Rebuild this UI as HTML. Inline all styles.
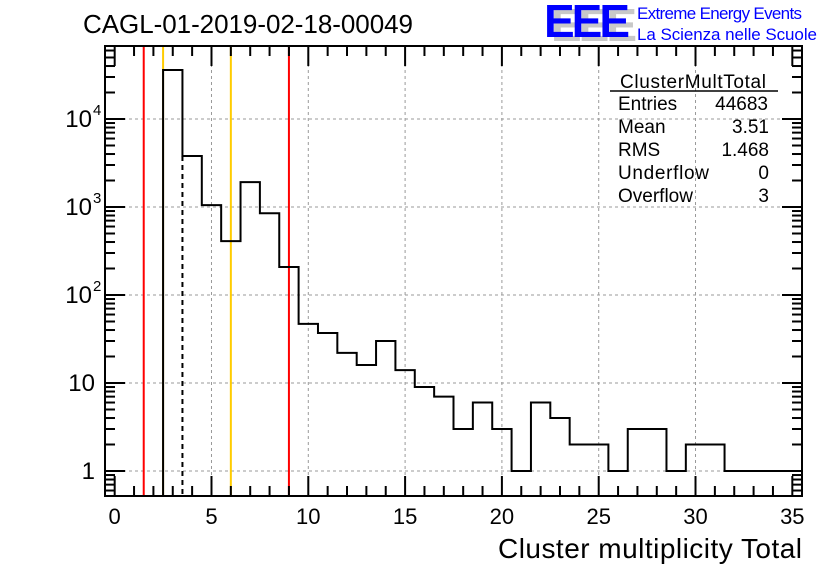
<!DOCTYPE html>
<html><head><meta charset="utf-8"><style>
body{margin:0;background:#fff;}
svg{display:block;font-family:"Liberation Sans",sans-serif;}
</style></head><body>
<svg id="chart" width="836" height="572" viewBox="0 0 836 572">
<rect width="836" height="572" fill="#fff"/>
<g id="grid"></g>
<g id="marks"></g>
<g id="axes"></g>
<text x="83" y="33" font-size="26" textLength="330">CAGL-01-2019-02-18-00049</text>
<g>
<text x="551" y="41" font-size="46" font-weight="bold" fill="#c8c8c8" letter-spacing="-3">EEE</text>
<text x="544" y="37" font-size="46" font-weight="bold" fill="#0000ff" letter-spacing="-3">EEE</text>
<text x="637" y="19" font-size="17" fill="#0000ff" textLength="165">Extreme Energy Events</text>
<text x="637" y="40" font-size="17" fill="#0000ff" textLength="180">La Scienza nelle Scuole</text>
</g>
<g font-size="19">
<text x="620" y="88" textLength="146">ClusterMultTotal</text>
<line x1="610" y1="91" x2="778" y2="91" stroke="#000" stroke-width="1.5"/>
<text x="618" y="110">Entries</text><text x="768" y="110" text-anchor="end">44683</text>
<text x="618" y="133">Mean</text><text x="769" y="133" text-anchor="end">3.51</text>
<text x="618" y="156">RMS</text><text x="769" y="156" text-anchor="end">1.468</text>
<text x="618" y="179" textLength="91">Underflow</text><text x="769" y="179" text-anchor="end">0</text>
<text x="618" y="202">Overflow</text><text x="769" y="202" text-anchor="end">3</text>
</g>
<text x="802" y="558" font-size="28" text-anchor="end" textLength="304">Cluster multiplicity Total</text>
</svg>
<script>
const binLow = [2.5,3.5,4.5,5.5,6.5,7.5,8.5,9.5,10.5,11.5,12.5,13.5,14.5,15.5,16.5,17.5,18.5,19.5,20.5,21.5,22.5,23.5,24.5,25.5,26.5,27.5,28.5,29.5,30.5,31.5,32.5,33.5,34.5];
const counts = [36000,3800,1050,410,1920,850,208,47,37,22,16,30,14,9,7,3,6,3,1,6,4,2,2,1,3,3,1,2,2,1,1,1,1];
const xTicks = [0,5,10,15,20,25,30,35];
const yDecades = [0,1,2,3,4];
const yLabels = ["1","10","10","10","10"];
const yExps = ["","","2","3","4"];
const redLines = [1.5,9];
const orangeLines = [2.5,6];
const meanLine = [3.5];

const L=105,R=802,T=46,B=496;
const xMin=-0.5,xMax=35.5;
const X=v=>L+(v-xMin)/(xMax-xMin)*(R-L);
const Y=v=>471-Math.log10(v)*88;
const NS="http://www.w3.org/2000/svg";
function mk(tag,attrs,parent){const e=document.createElementNS(NS,tag);for(const k in attrs)e.setAttribute(k,attrs[k]);parent.appendChild(e);return e;}
const grid=document.getElementById('grid'),marks=document.getElementById('marks'),axes=document.getElementById('axes');

xTicks.forEach(t=>{if(t===0||t===35)return;const l=mk('line',{x1:X(t),x2:X(t),y1:T,y2:B,stroke:'#999','stroke-dasharray':'3,3'},grid);

});
yDecades.forEach(d=>{const l=mk('line',{x1:L,x2:R,y1:Y(Math.pow(10,d)),y2:Y(Math.pow(10,d)),stroke:'#999','stroke-dasharray':'3,3'},grid);

});

redLines.forEach(v=>{const l=mk('line',{x1:X(v),x2:X(v),y1:T,y2:B,stroke:'#ff0000','stroke-width':2},marks);

});
orangeLines.forEach(v=>{const l=mk('line',{x1:X(v),x2:X(v),y1:T,y2:B,stroke:'#ffcc00','stroke-width':2},marks);

});
meanLine.forEach(v=>{const l=mk('line',{x1:X(v),x2:X(v),y1:Y(counts[1]),y2:B,stroke:'#000','stroke-width':2,'stroke-dasharray':'5,4'},marks);

});

let d='M'+X(binLow[0])+' '+B;
binLow.forEach((b,i)=>{const y=Y(counts[i]);d+=' L'+X(b)+' '+y+' L'+X(b+1)+' '+y;});
const last=binLow[binLow.length-1]+1;
d+=' L'+X(last)+' '+B;
const h=mk('path',{d:d,fill:'none',stroke:'#000','stroke-width':2},marks);



const fr=mk('rect',{x:L,y:T,width:R-L,height:B-T,fill:'none',stroke:'#000','stroke-width':2},axes);



for(let v=0;v<=35;v++){const len=(v%5===0)?20:10;
mk('line',{x1:X(v),x2:X(v),y1:B,y2:B-len,stroke:'#000','stroke-width':2},axes);
mk('line',{x1:X(v),x2:X(v),y1:T,y2:T+len,stroke:'#000','stroke-width':2},axes);}
xTicks.forEach(t=>{const tx=mk('text',{x:X(t),y:524,'font-size':22,'text-anchor':'middle'},axes);tx.textContent=t;

});
for(let dd=-1;dd<=4;dd++){for(let m=1;m<=9;m++){const v=m*Math.pow(10,dd);const y=Y(v);if(y<T||y>B)continue;const len=m===1?20:10;
mk('line',{x1:L,x2:L+len,y1:y,y2:y,stroke:'#000','stroke-width':2},axes);
mk('line',{x1:R,x2:R-len,y1:y,y2:y,stroke:'#000','stroke-width':2},axes);}}
yDecades.forEach((dd,i)=>{const y=Y(Math.pow(10,dd))+8;
const hasExp=yExps[i]!=="";
const tx=mk('text',{x:hasExp?92:95,y:y,'font-size':24,'text-anchor':'end'},axes);tx.textContent=yLabels[i];


if(hasExp){const ex=mk('text',{x:93,y:y-12,'font-size':15,'text-anchor':'start'},axes);ex.textContent=yExps[i];

}});
</script>
</body></html>
